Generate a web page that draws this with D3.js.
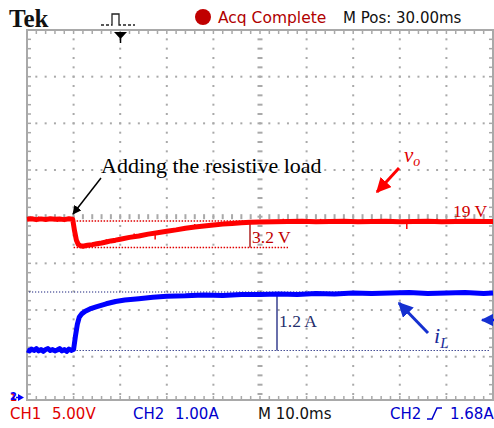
<!DOCTYPE html>
<html>
<head>
<meta charset="utf-8">
<script src="https://cdn.jsdelivr.net/npm/d3@7"></script>
<style>
  body { margin: 0; background: #fff; }
  svg { display: block; }
</style>
</head>
<body>
<div class="root"></div>
<script>
const width = 494;
const height = 428;

// time axis of the scope: 10 divisions of 10 ms
const timeTicks = d3.range(0, 101, 10);

// output voltage v_o (CH1), volts
const voT = [0, 1, 2, 3, 4, 5, 6, 7, 8, 9, 9.8, 10.2, 10.6, 11, 11.5, 12, 13, 14, 15, 16, 17, 18, 19, 20,
  22, 24, 26, 28, 30, 32, 34, 36, 38, 40, 42, 44, 46, 48, 50, 53, 56, 59, 62, 65, 68, 71, 74, 77, 80,
  83, 86, 89, 92, 95, 98, 100];
const voV = [19.25, 19.3, 19.2, 19.28, 19.22, 19.3, 19.24, 19.27, 19.2, 19.3, 19.25, 18.0, 17.0, 16.55,
  16.4, 16.35, 16.45, 16.52, 16.62, 16.7, 16.8, 16.92, 17.0, 17.1, 17.3, 17.45, 17.65, 17.8, 17.95,
  18.1, 18.28, 18.42, 18.52, 18.62, 18.72, 18.78, 18.86, 18.92, 18.95, 18.98, 19.0, 19.02, 18.97,
  19.0, 19.03, 18.97, 19.0, 19.02, 18.98, 19.0, 19.03, 18.97, 19.0, 19.02, 18.99, 19.0];
// short noise spikes on v_o
const voSpikeT = [2.5, 6.5, 17, 23, 27.5, 36, 45, 55, 63, 72, 81.5, 88, 95];
const voSpikeV = [0.3, -0.3, 0.3, 0.35, -0.7, 0.3, 0.25, 0.3, 0.3, 0.25, -0.8, 0.3, 0.25];

// inductor current i_L (CH2), amperes
const iLT = [0, 0.5, 1, 1.5, 2, 2.5, 3, 3.5, 4, 4.5, 5, 5.5, 6, 6.5, 7, 7.5, 8, 8.5, 9, 9.5, 10,
  10.4, 10.8, 11.2, 11.8, 12.5, 13.5, 15, 17, 19, 21, 24, 27, 30, 34, 38, 42, 46, 50, 54, 58, 62,
  66, 70, 74, 78, 82, 86, 90, 94, 98, 100];
const iLV = [0.5, 0.48, 0.52, 0.49, 0.53, 0.48, 0.51, 0.47, 0.51, 0.53, 0.49, 0.51, 0.48, 0.5, 0.53,
  0.48, 0.51, 0.47, 0.52, 0.49, 0.51, 0.8, 1.05, 1.2, 1.28, 1.33, 1.38, 1.43, 1.49, 1.54, 1.57, 1.6,
  1.63, 1.65, 1.66, 1.68, 1.67, 1.69, 1.69, 1.7, 1.69, 1.71, 1.7, 1.72, 1.71, 1.72, 1.73, 1.71, 1.72,
  1.73, 1.71, 1.72];

const svg = d3.select(".root").append("svg")
  .attr("width", width)
  .attr("height", height);

const plotLeft = 27, plotRight = 493, plotTop = 30, plotBottom = 400;
const div = (plotRight - plotLeft) / 10;
const divY = 46.67;

const x = d3.scaleLinear().domain([0, 100]).range([plotLeft, plotRight]);
// CH1: 5 V/div, 19 V sits just below the centre line
const yV = d3.scaleLinear().domain([19, 24]).range([221.5, 221.5 - divY]);
// CH2: 1 A/div
const yI = d3.scaleLinear().domain([0.5, 1.5]).range([350, 350 - divY]);

const grey = "#a9a9a9";
const g = svg.append("g");

// frame
g.append("rect")
  .attr("x", plotLeft).attr("y", plotTop)
  .attr("width", plotRight - plotLeft).attr("height", plotBottom - plotTop)
  .attr("fill", "#fff").attr("stroke", grey).attr("stroke-width", 2);

// dotted grid + centre rulers
const minorX = d3.range(1, 50).map((i) => plotLeft + i * div / 5);
const minorY = d3.range(1, 40).map((i) => plotTop + i * divY / 5).filter((v) => v < plotBottom - 1);

timeTicks.slice(1, -1).forEach((t) => {
  const gx = x(t);
  if (t === 50) {
    g.selectAll(null).data(minorY).join("line")
      .attr("x1", gx - 2.5).attr("x2", gx + 2.5).attr("y1", (d) => d).attr("y2", (d) => d)
      .attr("stroke", grey).attr("stroke-width", 2);
  } else {
    g.selectAll(null).data(minorY).join("rect")
      .attr("x", gx - 1).attr("y", (d) => d - 1).attr("width", 2).attr("height", 2)
      .attr("fill", grey);
  }
});
d3.range(1, 8).forEach((k) => {
  const gy = plotTop + k * divY;
  if (k === 4) {
    g.selectAll(null).data(minorX).join("line")
      .attr("x1", (d) => d).attr("x2", (d) => d).attr("y1", gy - 2.5).attr("y2", gy + 2.5)
      .attr("stroke", grey).attr("stroke-width", 2);
  } else {
    g.selectAll(null).data(minorX).join("rect")
      .attr("x", (d) => d - 1).attr("y", gy - 1).attr("width", 2).attr("height", 2)
      .attr("fill", grey);
  }
});
// edge ticks
g.selectAll(null).data(minorX).join("line")
  .attr("x1", (d) => d).attr("x2", (d) => d).attr("y1", plotTop).attr("y2", plotTop + 4)
  .attr("stroke", grey).attr("stroke-width", 1.5);
g.selectAll(null).data(minorX).join("line")
  .attr("x1", (d) => d).attr("x2", (d) => d).attr("y1", plotBottom).attr("y2", plotBottom - 4)
  .attr("stroke", grey).attr("stroke-width", 1.5);
g.selectAll(null).data(minorY).join("line")
  .attr("x1", plotLeft).attr("x2", plotLeft + 4).attr("y1", (d) => d).attr("y2", (d) => d)
  .attr("stroke", grey).attr("stroke-width", 1.5);
g.selectAll(null).data(minorY).join("line")
  .attr("x1", plotRight).attr("x2", plotRight - 4).attr("y1", (d) => d).attr("y2", (d) => d)
  .attr("stroke", grey).attr("stroke-width", 1.5);

// reference dotted lines
const ann = svg.append("g");
ann.append("line").attr("x1", x(10)).attr("x2", plotRight - 3).attr("y1", 221).attr("y2", 221)
  .attr("stroke", "#e00000").attr("stroke-width", 1.3).attr("stroke-dasharray", "1.5,1.5");
ann.append("line").attr("x1", x(10)).attr("x2", 288).attr("y1", 247.5).attr("y2", 247.5)
  .attr("stroke", "#e00000").attr("stroke-width", 1.3).attr("stroke-dasharray", "1.5,1.5");
ann.append("line").attr("x1", plotLeft + 2).attr("x2", plotRight - 3).attr("y1", 292).attr("y2", 292)
  .attr("stroke", "#1a237e").attr("stroke-width", 1.2).attr("stroke-dasharray", "1.2,1.8");
ann.append("line").attr("x1", x(10)).attr("x2", plotRight - 3).attr("y1", 350.5).attr("y2", 350.5)
  .attr("stroke", "#1a237e").attr("stroke-width", 1.2).attr("stroke-dasharray", "1.2,1.8");

// traces
const voData = voT.map((t, i) => [t, voV[i]]);
const iLData = iLT.map((t, i) => [t, iLV[i]]);

svg.append("path")
  .attr("d", d3.line().x((d) => x(d[0])).y((d) => yV(d[1]))(voData))
  .attr("fill", "none").attr("stroke", "#ff0000").attr("stroke-width", 5)
  .attr("stroke-linejoin", "round");
const voAt = d3.scaleLinear().domain(voT).range(voV);
svg.selectAll(null).data(voSpikeT).join("line")
  .attr("x1", (d) => x(d)).attr("x2", (d) => x(d))
  .attr("y1", (d) => yV(voAt(d)))
  .attr("y2", (d, i) => yV(voAt(d) + voSpikeV[i]))
  .attr("stroke", "#ff0000").attr("stroke-width", 1.5);

svg.append("path")
  .attr("d", d3.line().x((d) => x(d[0])).y((d) => yI(d[1]))(iLData))
  .attr("fill", "none").attr("stroke", "#0000ff").attr("stroke-width", 5)
  .attr("stroke-linejoin", "round");

// measurement bars
const serif = "Liberation Serif";
ann.append("line").attr("x1", 250).attr("x2", 250).attr("y1", 223).attr("y2", 247.5)
  .attr("stroke", "#a00000").attr("stroke-width", 1.3);
ann.append("text").attr("x", 252).attr("y", 243).text("3.2 V")
  .attr("font-family", serif).attr("font-size", 17.5).attr("fill", "#c00000");
ann.append("line").attr("x1", 277).attr("x2", 277).attr("y1", 293).attr("y2", 350.5)
  .attr("stroke", "#1a237e").attr("stroke-width", 1.3);
ann.append("text").attr("x", 279).attr("y", 327).text("1.2 A")
  .attr("font-family", serif).attr("font-size", 17.5).attr("fill", "#1f2d6b");
ann.append("text").attr("x", 453).attr("y", 217).text("19 V")
  .attr("font-family", serif).attr("font-size", 17.5).attr("fill", "#d00000");

// arrows
const defs = svg.append("defs");
[["ahBlack", "#000", 6], ["ahRed", "#ff0000", 5], ["ahBlue", "#1530d0", 5]].forEach(([id, c, s]) => {
  defs.append("marker").attr("id", id).attr("viewBox", "0 0 10 10")
    .attr("refX", 9).attr("refY", 5).attr("markerWidth", s).attr("markerHeight", s)
    .attr("orient", "auto")
    .append("path").attr("d", "M0,0L10,5L0,10z").attr("fill", c);
});
ann.append("line").attr("x1", 101).attr("y1", 178).attr("x2", 73).attr("y2", 214)
  .attr("stroke", "#000").attr("stroke-width", 1.5).attr("marker-end", "url(#ahBlack)");
ann.append("text").attr("x", 101).attr("y", 173).text("Adding the resistive load")
  .attr("font-family", serif).attr("font-size", 22).attr("fill", "#000");

ann.append("line").attr("x1", 399).attr("y1", 168).attr("x2", 377).attr("y2", 192)
  .attr("stroke", "#ff0000").attr("stroke-width", 3).attr("marker-end", "url(#ahRed)");
const vo = ann.append("text").attr("x", 404).attr("y", 162)
  .attr("font-family", serif).attr("font-style", "italic")
  .attr("font-size", 21).attr("fill", "#e00000");
vo.append("tspan").text("v");
vo.append("tspan").attr("dy", 4).attr("font-size", 14).text("o");

ann.append("line").attr("x1", 428).attr("y1", 333).attr("x2", 399).attr("y2", 303)
  .attr("stroke", "#1530d0").attr("stroke-width", 3).attr("marker-end", "url(#ahBlue)");
const il = ann.append("text").attr("x", 434).attr("y", 343)
  .attr("font-family", serif).attr("font-style", "italic")
  .attr("font-size", 22).attr("fill", "#1a2a9a");
il.append("tspan").text("i");
il.append("tspan").attr("dy", 5).attr("font-size", 15).text("L");

// CH2 level marker on the right
ann.append("line").attr("x1", 494).attr("y1", 320).attr("x2", 482).attr("y2", 320)
  .attr("stroke", "#0000ff").attr("stroke-width", 2.5).attr("marker-end", "url(#ahBlue)");

// trigger position marker
svg.append("path").attr("d", "M114,32L127,32L120.5,39z").attr("fill", "#000");
svg.append("line").attr("x1", 120.5).attr("x2", 120.5).attr("y1", 38).attr("y2", 43)
  .attr("stroke", "#000").attr("stroke-width", 1.5);

// ground markers at bottom left
svg.append("text").attr("x", 10).attr("y", 401).text("1")
  .attr("font-family", "DejaVu Sans").attr("font-weight", "bold").attr("font-size", 10).attr("fill", "#e00000");
svg.append("text").attr("x", 10).attr("y", 400).text("2")
  .attr("font-family", "DejaVu Sans").attr("font-weight", "bold").attr("font-size", 10).attr("fill", "#0000ff");
svg.append("path").attr("d", "M18,394L24,397.5L18,401z").attr("fill", "#0000ff");
svg.append("line").attr("x1", 16).attr("x2", 20).attr("y1", 397.5).attr("y2", 397.5)
  .attr("stroke", "#0000ff").attr("stroke-width", 1.5);

// header
svg.append("text").attr("x", 9).attr("y", 27).text("Tek")
  .attr("font-family", serif).attr("font-weight", "bold")
  .attr("font-size", 25).attr("fill", "#111");
svg.append("path")
  .attr("d", "M101,25L104,25M106,25L109,25M111,25L112,25L112,14L119,14L119,25L121,25M123,25L126,25M128,25L131,25M133,25L135,25")
  .attr("fill", "none").attr("stroke", "#222").attr("stroke-width", 1.3);
svg.append("circle").attr("cx", 203).attr("cy", 17).attr("r", 8).attr("fill", "#c00000");
const sans = "DejaVu Sans";
svg.append("text").attr("x", 218).attr("y", 23).text("Acq Complete")
  .attr("font-family", sans).attr("font-size", 15.5).attr("fill", "#b00000");
svg.append("text").attr("x", 343).attr("y", 23).text("M Pos: 30.00ms")
  .attr("font-family", sans).attr("font-size", 15).attr("fill", "#111");

// footer
const foot = [
  [10, "CH1", "#e00000"], [52, "5.00V", "#e00000"],
  [133, "CH2", "#0000cc"], [175, "1.00A", "#0000cc"],
  [258, "M 10.0ms", "#111"],
  [390, "CH2", "#0000cc"], [450, "1.68A", "#0000cc"],
];
svg.selectAll(null).data(foot).join("text")
  .attr("x", (d) => d[0]).attr("y", 419).text((d) => d[1])
  .attr("font-family", sans).attr("font-size", 15).attr("fill", (d) => d[2]);
svg.append("path").attr("d", "M427,419L432,419L437,408L442,408")
  .attr("fill", "none").attr("stroke", "#0000cc").attr("stroke-width", 1.5);
</script>
</body>
</html>
